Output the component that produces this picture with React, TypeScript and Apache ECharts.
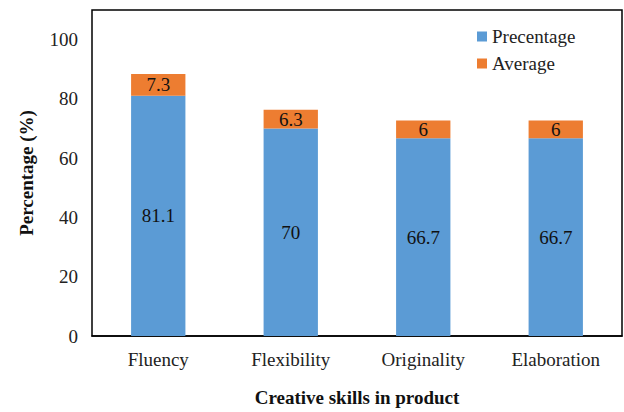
import React, { useEffect, useRef } from "react";
import * as echarts from "echarts";

const categories = ["Fluency", "Flexibility", "Originality", "Elaboration"];
const percentageValues = [81.1, 70, 66.7, 66.7];
const averageValues = [7.3, 6.3, 6, 6];
const yTicks = { min: 0, max: 110, interval: 20 };

const FONT = "Liberation Serif";

export default function App() {
  const ref = useRef<HTMLDivElement>(null);
  useEffect(() => {
    if (!ref.current) return;
    const chart = echarts.init(ref.current, undefined, { renderer: "svg" });
    chart.setOption({
      animation: false,
      textStyle: { fontFamily: FONT },
      grid: {
        left: 92,
        right: 2,
        top: 10,
        bottom: 75,
        show: true,
        borderColor: "#000",
        borderWidth: 1.5,
        containLabel: false,
      },
      legend: {
        orient: "vertical",
        left: 472,
        top: 22,
        itemWidth: 10,
        itemHeight: 10,
        itemGap: 8,
        icon: "rect",
        textStyle: { fontFamily: FONT, fontSize: 19, color: "#222" },
        data: ["Precentage", "Average"],
      },
      xAxis: {
        type: "category",
        data: categories,
        axisLine: { lineStyle: { color: "#000", width: 1.5 } },
        axisTick: { show: false },
        axisLabel: { fontFamily: FONT, fontSize: 19, color: "#222", margin: 14 },
        name: "Creative skills in product",
        nameLocation: "middle",
        nameGap: 52,
        nameTextStyle: { fontFamily: FONT, fontSize: 19, fontWeight: "bold", color: "#111" },
      },
      yAxis: {
        type: "value",
        min: yTicks.min,
        max: yTicks.max,
        interval: yTicks.interval,
        axisLine: { show: false },
        axisTick: { show: false },
        splitLine: { show: false },
        axisLabel: { fontFamily: FONT, fontSize: 19, color: "#222", margin: 14, showMaxLabel: false },
        name: "Percentage (%)",
        nameLocation: "middle",
        nameGap: 56,
        nameTextStyle: { fontFamily: FONT, fontSize: 19, fontWeight: "bold", color: "#111" },
      },
      series: [
        {
          name: "Precentage",
          type: "bar",
          stack: "total",
          data: percentageValues,
          barCategoryGap: "59%",
          itemStyle: { color: "#5B9BD5" },
          label: { show: true, position: "inside", fontFamily: FONT, fontSize: 19, color: "#111" },
        },
        {
          name: "Average",
          type: "bar",
          stack: "total",
          data: averageValues,
          itemStyle: { color: "#ED7D31" },
          label: { show: true, position: "inside", fontFamily: FONT, fontSize: 19, color: "#111" },
        },
      ],
    });
    return () => chart.dispose();
  }, []);
  return <div ref={ref} style={{ width: 624, height: 412, position: "absolute", left: 0, top: 0, background: "#fff" }} />;
}
